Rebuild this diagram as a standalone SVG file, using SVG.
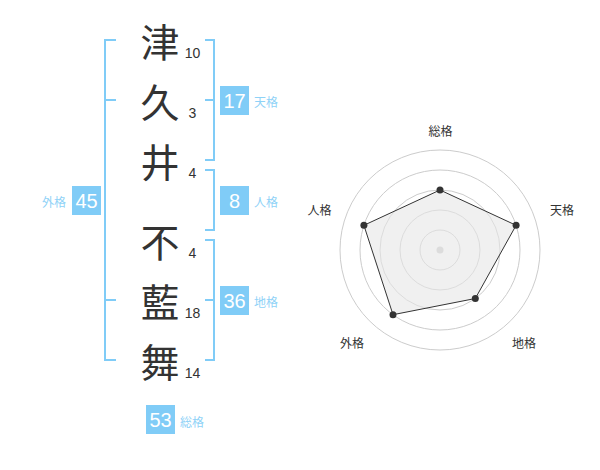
<svg xmlns="http://www.w3.org/2000/svg" width="600" height="470" viewBox="0 0 600 470">
<style>
.ch{font-family:"Noto Sans CJK JP","Noto Sans CJK SC",sans-serif;font-size:39px;fill:#333;text-anchor:middle;dominant-baseline:central}
.st{font-family:"Liberation Sans",Arial,sans-serif;font-size:14px;fill:#333;text-anchor:middle}
.br{fill:none;stroke:#80ccf7;stroke-width:2}
.bx{fill:#80ccf7}
.bn{font-family:"Liberation Sans",Arial,sans-serif;font-size:20px;fill:#fff;text-anchor:middle;dominant-baseline:central}
.bl{font-family:"Noto Sans CJK JP","Noto Sans CJK SC",sans-serif;font-size:12px;fill:#8fd2f7;dominant-baseline:central}
.rc{fill:none;stroke:#cccccc;stroke-width:1}
.rl{font-family:"Noto Sans CJK JP","Noto Sans CJK SC",sans-serif;font-size:12px;fill:#333;text-anchor:middle;dominant-baseline:central}
.pt{fill:#333}
</style>
<rect width="600" height="470" fill="#fff"/>
<g id="connectors">
<path class="br" d="M116,40H105V360H116M105,100H116M105,300H116"/>
<path class="br" d="M205,40H214V160H205M205,100H214"/>
<path class="br" d="M205,170H214V230H205"/>
<path class="br" d="M205,240H214V360H205M205,300H214"/>
</g>
<g id="char-tsu"><text class="ch" x="160" y="40">津</text><text class="st" x="192.5" y="58">10</text></g>
<g id="char-ku"><text class="ch" x="160" y="100">久</text><text class="st" x="192.5" y="118">3</text></g>
<g id="char-i"><text class="ch" x="160" y="160">井</text><text class="st" x="192.5" y="178">4</text></g>
<g id="char-fu"><text class="ch" x="160" y="240">不</text><text class="st" x="192.5" y="258">4</text></g>
<g id="char-ai"><text class="ch" x="160" y="300">藍</text><text class="st" x="192.5" y="318">18</text></g>
<g id="char-mai"><text class="ch" x="160" y="360">舞</text><text class="st" x="192.5" y="378">14</text></g>
<g id="tenkaku"><rect class="bx" x="220" y="86" width="29" height="29"/><text class="bn" x="234.5" y="101">17</text><text class="bl" x="254" y="101">天格</text></g>
<g id="jinkaku"><rect class="bx" x="220" y="186" width="29" height="29"/><text class="bn" x="234.5" y="201">8</text><text class="bl" x="254" y="201">人格</text></g>
<g id="chikaku"><rect class="bx" x="220" y="286" width="29" height="29"/><text class="bn" x="234.5" y="301">36</text><text class="bl" x="254" y="301">地格</text></g>
<g id="gaikaku"><rect class="bx" x="72" y="186" width="29" height="29"/><text class="bn" x="86.5" y="201">45</text><text class="bl" x="66" y="201" text-anchor="end">外格</text></g>
<g id="soukaku"><rect class="bx" x="146" y="405" width="29" height="29"/><text class="bn" x="160.5" y="420">53</text><text class="bl" x="180" y="421">総格</text></g>
<g id="radar">
<circle class="rc" cx="440" cy="250" r="100"/>
<circle class="rc" cx="440" cy="250" r="80"/>
<circle class="rc" cx="440" cy="250" r="60"/>
<circle class="rc" cx="440" cy="250" r="40"/>
<circle class="rc" cx="440" cy="250" r="20"/>
<circle cx="440" cy="250" r="3.5" fill="#cccccc"/>
<polygon points="440,190 516.1,225.3 475.3,298.5 393,314.7 363.9,225.3" fill="#e6e6e6" fill-opacity="0.6" stroke="#333" stroke-width="1"/>
<circle class="pt" cx="440" cy="190" r="3.5"/>
<circle class="pt" cx="516.1" cy="225.3" r="3.5"/>
<circle class="pt" cx="475.3" cy="298.5" r="3.5"/>
<circle class="pt" cx="393" cy="314.7" r="3.5"/>
<circle class="pt" cx="363.9" cy="225.3" r="3.5"/>
<text class="rl" x="440.5" y="130.5">総格</text>
<text class="rl" x="562" y="209">天格</text>
<text class="rl" x="319.5" y="209">人格</text>
<text class="rl" x="352" y="342">外格</text>
<text class="rl" x="524" y="342">地格</text>
</g>
</svg>
